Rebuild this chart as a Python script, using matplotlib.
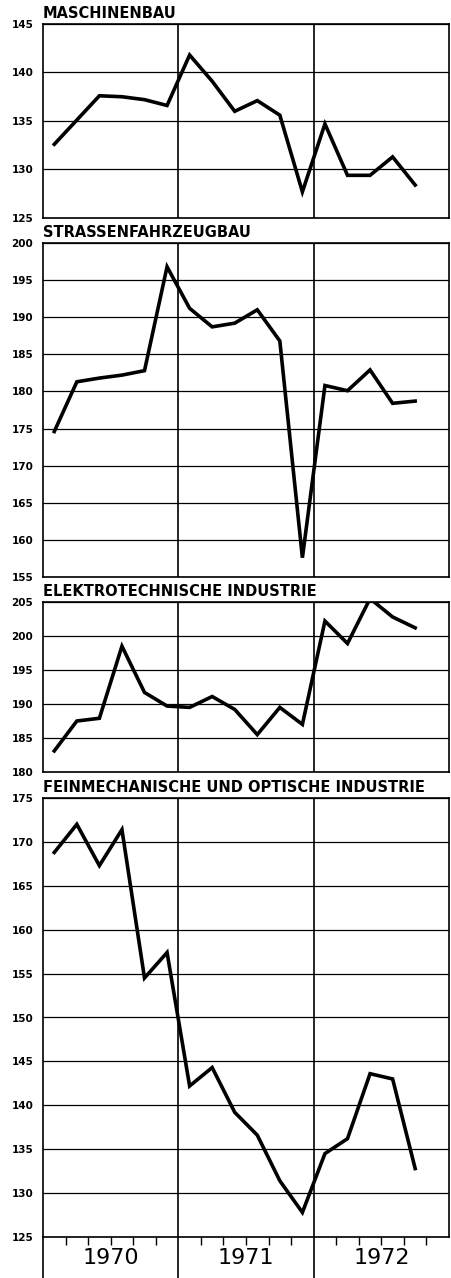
import numpy as np
import matplotlib.pyplot as plt
from matplotlib import transforms

plt.rcParams['font.family'] = ['Liberation Sans Narrow', 'DejaVu Sans']

# bimonthly index values, 1970 - mid 1972 (centre month of each period)
months = np.arange(1, 34, 2)

maschinenbau = [132.6, 135.1, 137.6, 137.5, 137.2, 136.6, 141.8, 139.1, 136.0,
                137.1, 135.6, 127.7, 134.7, 129.4, 129.4, 131.3, 128.4]
strassenfahrzeugbau = [174.6, 181.3, 181.8, 182.2, 182.8, 196.8, 191.2, 188.7, 189.2,
                       191.0, 186.8, 157.6, 180.8, 180.1, 182.9, 178.4, 178.7]
elektrotechnik = [183.1, 187.5, 187.9, 198.5, 191.7, 189.7, 189.5, 191.1, 189.2,
                  185.5, 189.5, 187.0, 202.2, 198.9, 205.5, 202.8, 201.2]
feinmechanik = [168.8, 172.0, 167.3, 171.4, 154.5, 157.4, 142.2, 144.3, 139.2,
                136.6, 131.4, 127.8, 134.5, 136.2, 143.6, 143.0, 132.8]

series = [maschinenbau, strassenfahrzeugbau, elektrotechnik, feinmechanik]
titles = ['MASCHINENBAU', 'STRASSENFAHRZEUGBAU', 'ELEKTROTECHNISCHE INDUSTRIE',
          'FEINMECHANISCHE UND OPTISCHE INDUSTRIE']
ylims = [(125, 145), (155, 200), (180, 205), (125, 175)]
years = ['1970', '1971', '1972']

W, H = 451, 1278
# panel boxes in pixels: (top, bottom)
boxes = [(24, 218), (243, 577), (602, 772), (798, 1237)]
left_px, right_px = 43, 449

fig = plt.figure(figsize=(W / 100, H / 100), dpi=100)
fig.patch.set_facecolor('white')

axes = []
for (top, bottom), vals, title, (lo, hi) in zip(boxes, series, titles, ylims):
    ax = fig.add_axes([left_px / W, 1 - bottom / H, (right_px - left_px) / W, (bottom - top) / H])
    ax.plot(months, vals, color='black', lw=2.6, solid_joinstyle='miter', zorder=3)
    ax.set_xlim(0, 36)
    ax.set_ylim(lo, hi)
    ax.set_yticks(np.arange(lo, hi + 1, 5))
    ax.grid(axis='y', color='black', lw=0.9)
    for yr_line in [12, 24]:
        ax.axvline(yr_line, color='black', lw=1.2)
    for sp in ax.spines.values():
        sp.set_linewidth(1.2)
    ax.tick_params(axis='y', length=0, pad=7, labelsize=7.5)
    for lab in ax.get_yticklabels():
        lab.set_fontweight('bold')
    ax.set_xticks([])
    ax.annotate(title, xy=(0, 1), xycoords='axes fraction', xytext=(0, 2),
                textcoords='offset points', ha='left', va='bottom',
                fontsize=10.5, fontweight='bold')
    axes.append(ax)

# bottom panel: bimonthly ticks, year labels, lines running down
ax = axes[-1]
ax.set_xticks([m for m in range(2, 36, 2) if m not in (12, 24)], minor=True)
ax.tick_params(axis='x', which='minor', direction='out', length=6, width=1)
ext = -(H - boxes[-1][1]) / (boxes[-1][1] - boxes[-1][0])
for xl in [0, 12, 24]:
    ax.axvline(xl, ymin=ext, ymax=0, color='black', lw=1.2, clip_on=False)
trans = transforms.blended_transform_factory(ax.transData, ax.transAxes)
for i, yr in enumerate(years):
    ax.text(i * 12 + 6, ext / 2, yr, transform=trans, ha='center', va='center',
            fontsize=16)

fig.savefig('out.png', dpi=100)
